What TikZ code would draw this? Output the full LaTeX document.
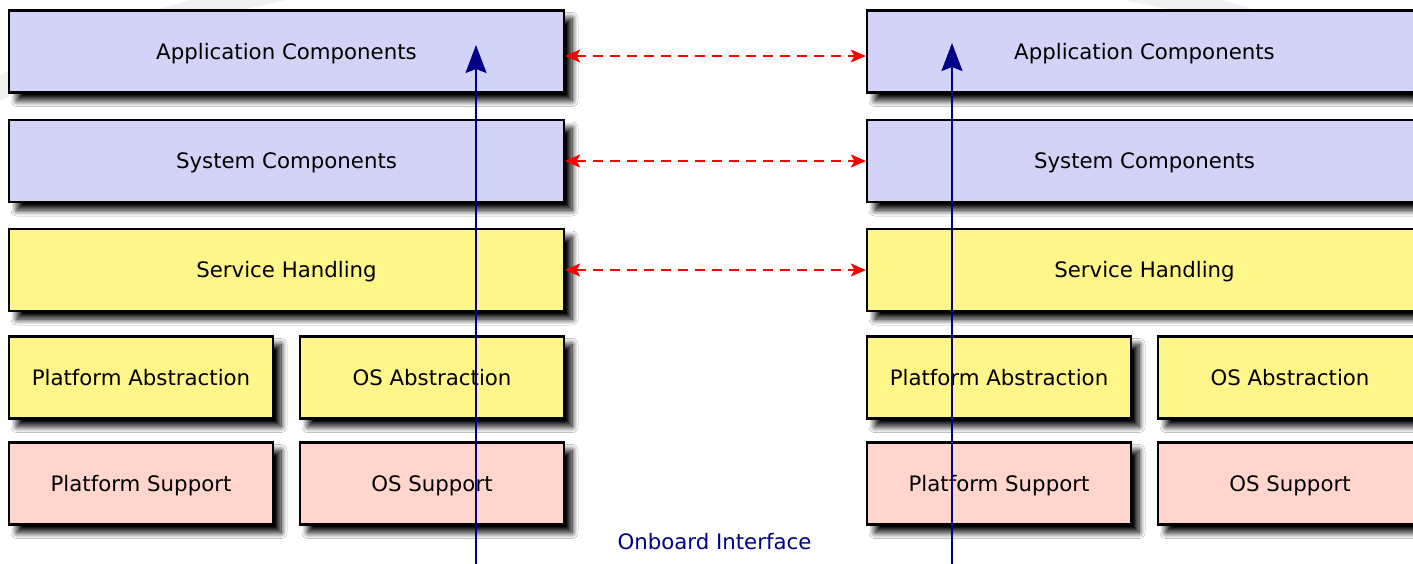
\documentclass[tikz,border=0pt]{standalone}
\usepackage{fontspec}
\setmainfont{DejaVu Sans}
\usetikzlibrary{shadows.blur,arrows.meta,calc}
\definecolor{lav}{HTML}{D3D3F7}
\definecolor{yel}{HTML}{FFF68A}
\definecolor{pnk}{HTML}{FFD5CD}
\definecolor{ifblue}{HTML}{000088}
\definecolor{swoosh}{HTML}{F1F1F1}
\tikzset{
  box/.style={draw=black, line width=2.2pt, inner sep=0pt,
    font=\fontsize{21.3}{25}\selectfont, text height=15.5pt, text depth=0pt,
    blur shadow={shadow xshift=8pt, shadow yshift=-8pt, shadow blur radius=6pt, shadow blur steps=12, shadow opacity=100}},
  wide/.style={box, minimum width=555pt, minimum height=82pt},
  half/.style={box, minimum width=264pt, minimum height=82pt},
  peer/.style={draw=red, line width=2pt, dash pattern=on 10pt off 7pt,
    {Stealth[length=15pt,width=13pt,inset=3.5pt]}-{Stealth[length=15pt,width=13pt,inset=3.5pt]}},
  iface/.style={draw=ifblue, line width=2pt, -{Stealth[length=28pt,width=21pt,inset=4pt]}},
  lbl/.style={text=ifblue, font=\fontsize{21.3}{25}\selectfont}
}
\begin{document}
\begin{tikzpicture}[x=1pt,y=-1pt]
\useasboundingbox (0,0) rectangle (1413,563);
\clip (0,0) rectangle (1413,563);
\fill[white] (0,0) rectangle (1413,563);
% faint background swoosh
\begin{scope}
\clip (0,0) rectangle (1413,135);
\draw[swoosh, line width=22pt] (706,212) ellipse [x radius=800, y radius=262];
\end{scope}
% left stack
\node[wide, fill=lav] (appL) at (286.5,51.5) {Application Components};
\node[wide, fill=lav] (sysL) at (286.5,161) {System Components};
\node[wide, fill=yel] (svcL) at (286.5,270) {Service Handling};
\node[half, fill=yel] (pabsL) at (141,377.5) {Platform Abstraction};
\node[half, fill=yel] (osabsL) at (432,377.5) {OS Abstraction};
\node[half, fill=pnk] (psupL) at (141,483.5) {Platform Support};
\node[half, fill=pnk] (ossupL) at (432,483.5) {OS Support};
% right stack
\node[wide, fill=lav] (appR) at (1144.5,51.5) {Application Components};
\node[wide, fill=lav] (sysR) at (1144.5,161) {System Components};
\node[wide, fill=yel] (svcR) at (1144.5,270) {Service Handling};
\node[half, fill=yel] (pabsR) at (999,377.5) {Platform Abstraction};
\node[half, fill=yel] (osabsR) at (1290,377.5) {OS Abstraction};
\node[half, fill=pnk] (psupR) at (999,483.5) {Platform Support};
\node[half, fill=pnk] (ossupR) at (1290,483.5) {OS Support};
% peer connections
\draw[peer] ($(appL.east)+(0,4.5)$) -- ($(appR.west)+(0,4.5)$);
\draw[peer] (sysL.east) -- (sysR.west);
\draw[peer] (svcL.east) -- (svcR.west);
% onboard interface
\coordinate (ifLb) at (476,565);
\coordinate (ifLt) at (476,45);
\coordinate (ifRb) at (952,565);
\coordinate (ifRt) at (952,43);
\draw[iface] (ifLb) -- (ifLt);
\draw[iface] (ifRb) -- (ifRt);
\node[lbl] (onb) at (714.5,542) {Onboard Interface};
\end{tikzpicture}
\end{document}
